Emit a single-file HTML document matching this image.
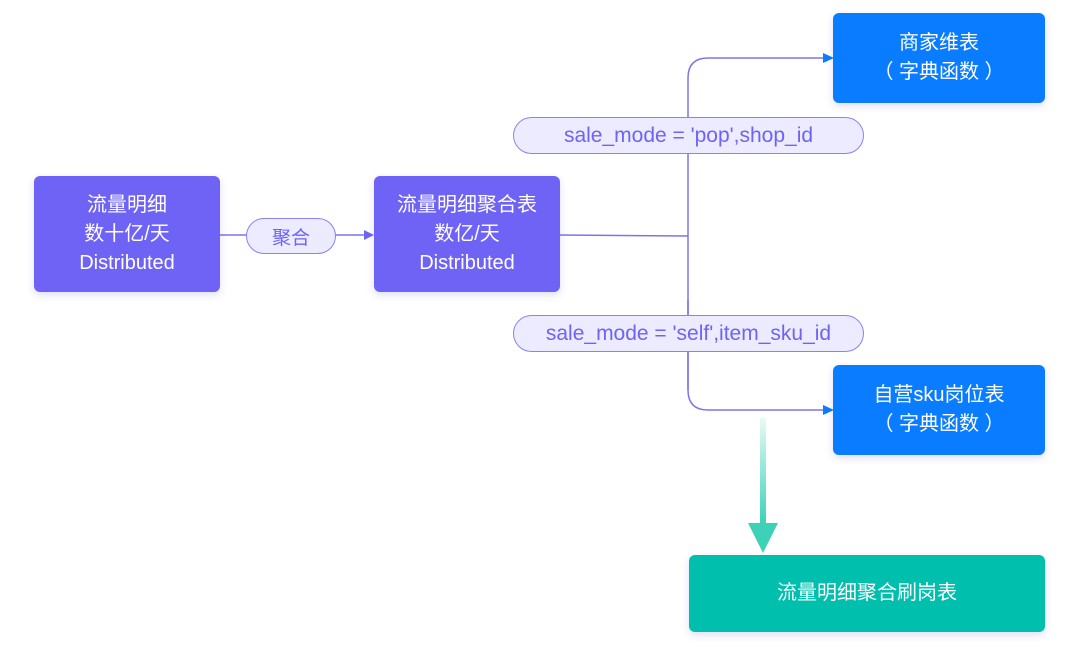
<!DOCTYPE html>
<html><head><meta charset="utf-8"><style>
body{margin:0;width:1080px;height:651px;background:#fff;overflow:hidden;font-family:"Liberation Sans","Noto Sans CJK SC",sans-serif}
.b{position:absolute;display:flex;align-items:center;justify-content:center;text-align:center;color:#fff;font-size:20px;line-height:29px;border-radius:6px;box-shadow:0 3px 8px rgba(80,80,200,.18)}
.p{background:#6e63f5}.bl{background:#0a7cff}.g{background:#00bfad}
.pill{position:absolute;border:1.5px solid #8a82f2;background:#ecebff;border-radius:20px;color:#6e63f5;font-size:21px;display:flex;align-items:center;justify-content:center;box-sizing:border-box}
</style></head><body>
<svg width="1080" height="651" style="position:absolute;left:0;top:0">
<defs><linearGradient id="gg" x1="0" y1="0" x2="0" y2="1"><stop offset="0" stop-color="#e6fbf6"/><stop offset="1" stop-color="#3dd1b8"/></linearGradient></defs>
<g stroke="#7b74f0" stroke-width="1.5" fill="none">
<line x1="220" y1="235" x2="366" y2="235"/>
<line x1="560" y1="235" x2="688" y2="236"/>
<path d="M688 390 V78 Q688 58 708 58 H825"/>
<path d="M688 300 V390 Q688 410 708 410 H825"/>
</g>
<polygon points="374,235 364,230 364,240" fill="#6e63f5"/>
<polygon points="834,58 823,53 823,63" fill="#0a7cff"/>
<polygon points="834,410 823,405 823,415" fill="#0a7cff"/>
<rect x="760" y="418" width="6" height="106" fill="url(#gg)"/>
<polygon points="748,523 778,523 763,553" fill="#3dd1b8"/>
</svg>
<div class="b p" style="left:34px;top:176px;width:186px;height:116px">流量明细<br>数十亿/天<br>Distributed</div>
<div class="b p" style="left:374px;top:176px;width:186px;height:116px">流量明细聚合表<br>数亿/天<br>Distributed</div>
<div class="pill" style="left:246px;top:218px;width:90px;height:36px;font-size:19px">聚合</div>
<div class="pill" style="left:513px;top:117px;width:351px;height:37px">sale_mode = 'pop',shop_id</div>
<div class="pill" style="left:513px;top:315px;width:351px;height:37px">sale_mode = 'self',item_sku_id</div>
<div class="b bl" style="left:833px;top:13px;width:212px;height:90px">商家维表<br>（ 字典函数 ）</div>
<div class="b bl" style="left:833px;top:365px;width:212px;height:90px">自营sku岗位表<br>（ 字典函数 ）</div>
<div class="b g" style="left:689px;top:555px;width:356px;height:77px">流量明细聚合刷岗表</div>
</body></html>
